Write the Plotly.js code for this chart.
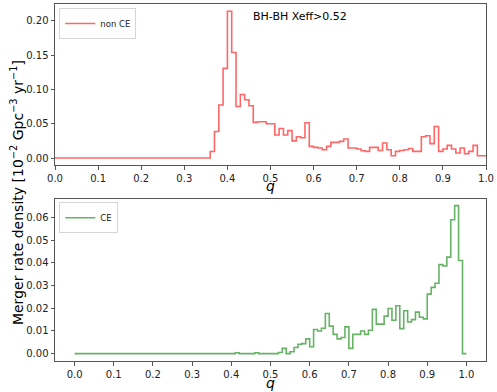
<!DOCTYPE html>
<html>
<head>
<meta charset="utf-8">
<script src="https://cdn.plot.ly/plotly-3.0.1.min.js"></script>
<style>html,body{margin:0;padding:0;background:#fff;}#chart{width:497px;height:392px;}</style>
</head>
<body>
<div id="chart"></div>
<script>
// Bin edges of q (left edges of the 100 bins plus the final right edge)
const qEdges = [0.00,0.01,0.02,0.03,0.04,0.05,0.06,0.07,0.08,0.09,
  0.10,0.11,0.12,0.13,0.14,0.15,0.16,0.17,0.18,0.19,
  0.20,0.21,0.22,0.23,0.24,0.25,0.26,0.27,0.28,0.29,
  0.30,0.31,0.32,0.33,0.34,0.35,0.36,0.37,0.38,0.39,
  0.40,0.41,0.42,0.43,0.44,0.45,0.46,0.47,0.48,0.49,
  0.50,0.51,0.52,0.53,0.54,0.55,0.56,0.57,0.58,0.59,
  0.60,0.61,0.62,0.63,0.64,0.65,0.66,0.67,0.68,0.69,
  0.70,0.71,0.72,0.73,0.74,0.75,0.76,0.77,0.78,0.79,
  0.80,0.81,0.82,0.83,0.84,0.85,0.86,0.87,0.88,0.89,
  0.90,0.91,0.92,0.93,0.94,0.95,0.96,0.97,0.98,0.99,1.00];

// non CE merger rate density per bin [10^-2 Gpc^-3 yr^-1]
const nonCE = [0,0,0,0,0,0,0,0,0,0,
  0,0,0,0,0,0,0,0,0,0,
  0,0,0,0,0,0,0,0,0,0,
  0,0,0,0,0,0,0.0096,0.0388,0.0774,0.1308,
  0.2143,0.154,0.0753,0.0928,0.0851,0.0763,0.052,0.053,0.053,0.050,
  0.050,0.0336,0.043,0.0336,0.040,0.025,0.031,0.0296,0.0515,0.017,
  0.0155,0.0146,0.012,0.017,0.0228,0.0228,0.0243,0.0277,0.0146,0.0146,
  0.0131,0.0107,0.0097,0.0155,0.0155,0.011,0.0219,0.012,0.0034,0.0097,
  0.011,0.012,0.014,0.0097,0.0097,0.031,0.0326,0.021,0.046,0.0097,
  0.0131,0.0184,0.0131,0.0073,0.0146,0.0063,0.0097,0.0184,0.0034,0.0034];

// CE merger rate density per bin
const CE = [0,0,0,0,0,0,0,0,0,0,
  0,0,0,0,0,0,0,0,0,0,
  0,0,0,0,0,0,0,0,0,0,
  0,0,0,0,0,0,0,0,0,0,
  0,0.0004,0,0,0,0,0.0004,0,0,0,
  0,0,0.0005,0.0023,0,0.0008,0.0027,0.0041,0.0044,0.0065,
  0.003,0.0106,0.010,0.0112,0.0177,0.0121,0.0085,0.0065,0.0071,0.0118,
  0.0023,0.0085,0.0085,0.010,0.0085,0.0103,0.0195,0.013,0.013,0.0165,
  0.0199,0.0147,0.0211,0.011,0.0189,0.014,0.015,0.0183,0.016,0.0153,
  0.0262,0.0292,0.031,0.0392,0.0386,0.0425,0.059,0.0652,0.041,0];

const seriesNames = ["non CE", "CE"];
const titleText = "BH-BH Xeff>0.52";
const yLabel = "Merger rate density [10<sup>\u22122</sup> Gpc<sup>\u22123</sup> yr<sup>\u22121</sup>]";
const xLabel = "<i>q</i>";
const xTicksTop = [0.0,0.1,0.2,0.3,0.4,0.5,0.6,0.7,0.8,0.9,1.0];
const yTicksTop = [0.00,0.05,0.10,0.15,0.20];
const yTicksBottom = [0.00,0.01,0.02,0.03,0.04,0.05,0.06];

const FONT = "DejaVu Sans, Liberation Sans, sans-serif";
const AX = "#555";

function stepY(vals){ return vals.concat([vals[vals.length-1]]); }

const traces = [
  {x: qEdges, y: stepY(nonCE), type: "scatter", mode: "lines", line: {shape: "hv", color: "rgba(255,0,0,0.6)", width: 1.6},
   name: seriesNames[0], xaxis: "x", yaxis: "y", legend: "legend"},
  {x: qEdges, y: stepY(CE), type: "scatter", mode: "lines", line: {shape: "hv", color: "rgba(0,128,0,0.6)", width: 1.6},
   name: seriesNames[1], xaxis: "x2", yaxis: "y2", legend: "legend2"}
];

const axisCommon = {showline: true, mirror: true, linecolor: AX, linewidth: 1, ticks: "outside", ticklen: 3.5, tickwidth: 1,
  tickcolor: AX, showgrid: false, zeroline: false, tickfont: {family: FONT, size: 10, color: "#222"}};

const layout = {
  width: 497, height: 392,
  margin: {l: 55, r: 11, t: 4, b: 31},
  paper_bgcolor: "#fff", plot_bgcolor: "#fff",
  font: {family: FONT, color: "#000"},
  showlegend: true,
  xaxis: Object.assign({}, axisCommon, {domain: [0,1], anchor: "y", range: [0,1], tickvals: xTicksTop, tickformat: ".1f"}),
  yaxis: Object.assign({}, axisCommon, {domain: [0.548,1], anchor: "x", range: [-0.0107,0.2248], tickvals: yTicksTop, tickformat: ".2f"}),
  xaxis2: Object.assign({}, axisCommon, {domain: [0,1], anchor: "y2", range: [-0.05,1.05], tickvals: xTicksTop, tickformat: ".1f"}),
  yaxis2: Object.assign({}, axisCommon, {domain: [0,0.4546], anchor: "x2", range: [-0.00325,0.06825], tickvals: yTicksBottom, tickformat: ".2f"}),
  legend: {x: 0.01, y: 0.989, xanchor: "left", yanchor: "top", bgcolor: "rgba(255,255,255,0.8)", bordercolor: "#d5d5d5", borderwidth: 1,
    font: {family: FONT, size: 8.5, color: "#222"}, itemwidth: 30, tracegroupgap: 0},
  legend2: {x: 0.01, y: 0.4445, xanchor: "left", yanchor: "top", bgcolor: "rgba(255,255,255,0.8)", bordercolor: "#d5d5d5", borderwidth: 1,
    font: {family: FONT, size: 8.5, color: "#222"}, itemwidth: 30, tracegroupgap: 0},
  annotations: [
    {text: titleText, xref: "paper", yref: "paper", x: 0.5684, y: 0.9644, xanchor: "center", yanchor: "middle", showarrow: false,
     font: {family: FONT, size: 11, color: "#000"}},
    {text: yLabel, xref: "paper", yref: "paper", x: -0.088, y: 0.4706, xanchor: "center", yanchor: "middle", textangle: -90, showarrow: false,
     font: {family: FONT, size: 14, color: "#000"}},
    {text: xLabel, xref: "paper", yref: "paper", x: 0.5, y: 0.4902, xanchor: "center", yanchor: "middle", showarrow: false,
     font: {family: FONT, size: 14, color: "#000"}},
    {text: xLabel, xref: "paper", yref: "paper", x: 0.5, y: -0.0616, xanchor: "center", yanchor: "middle", showarrow: false,
     font: {family: FONT, size: 14, color: "#000"}}
  ]
};

Plotly.newPlot("chart", traces, layout, {staticPlot: true, displayModeBar: false});
</script>
</body>
</html>
